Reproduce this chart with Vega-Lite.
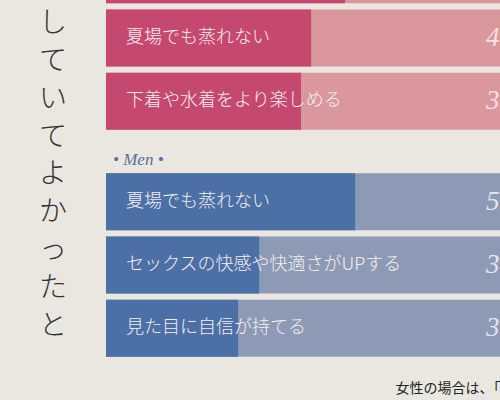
{
  "$schema": "https://vega.github.io/schema/vega-lite/v6.json",
  "autosize": {"type": "none"},
  "padding": {"left": 106, "top": 0, "right": 0, "bottom": 0},
  "width": 394,
  "height": 400,
  "background": "#e9e7e0",
  "title": {
    "text": ["し", "て", "い", "て", "よ", "か", "っ", "た", "と"],
    "orient": "left",
    "anchor": "end",
    "angle": 0,
    "align": "center",
    "baseline": "top",
    "font": "Noto Sans CJK JP",
    "fontSize": 28,
    "fontWeight": 300,
    "lineHeight": 37.8,
    "color": "#333333",
    "offset": 25,
    "dy": 64
  },
  "data": {
    "values": [
      {"group": "Women", "rank": 0, "item": "", "value": 54.3, "pct": null},
      {"group": "Women", "rank": 1, "item": "夏場でも蒸れない", "value": 46.6, "pct": 46.6},
      {"group": "Women", "rank": 2, "item": "下着や水着をより楽しめる", "value": 44.3, "pct": 38.0},
      {"group": "Men", "rank": 0, "item": "夏場でも蒸れない", "value": 56.6, "pct": 56.6},
      {"group": "Men", "rank": 1, "item": "セックスの快感や快適さがUPする", "value": 34.8, "pct": 34.8},
      {"group": "Men", "rank": 2, "item": "見た目に自信が持てる", "value": 30.0, "pct": 30.0}
    ]
  },
  "encoding": {
    "y": {
      "field": "group", "type": "nominal",
      "scale": {"domain": ["Women", "Men"], "range": [-57, 360], "paddingInner": 0.163, "paddingOuter": 0},
      "axis": null
    }
  },
  "layer": [
    {
      "mark": {"type": "bar"},
      "encoding": {
        "yOffset": {"field": "rank", "type": "ordinal", "scale": {"paddingInner": 0.1, "paddingOuter": 0.05}},
        "x": {
          "datum": 100, "type": "quantitative",
          "scale": {"domain": [0, 89.5], "nice": false},
          "axis": {
            "domain": false, "ticks": false, "labels": false, "grid": false,
            "title": "女性の場合は、「",
            "titleAnchor": "end", "titleAlign": "right", "titleBaseline": "middle",
            "titleY": -12, "titleFont": "Noto Sans CJK JP", "titleFontSize": 14,
            "titleFontWeight": "normal", "titleColor": "#222222"
          }
        },
        "color": {
          "field": "group", "type": "nominal",
          "scale": {"domain": ["Women", "Men"], "range": ["#da979c", "#8d9ab5"]},
          "legend": null
        }
      }
    },
    {
      "mark": {"type": "bar"},
      "encoding": {
        "yOffset": {"field": "rank", "type": "ordinal"},
        "x": {"field": "value", "type": "quantitative"},
        "fill": {
          "field": "group", "type": "nominal",
          "scale": {"domain": ["Women", "Men"], "range": ["#c5486f", "#4b70a5"]},
          "legend": null
        }
      }
    },
    {
      "mark": {"type": "text", "align": "left", "baseline": "middle", "dx": 20, "font": "Noto Sans CJK JP", "fontSize": 18, "fontWeight": 300, "color": "#f6eef0"},
      "encoding": {
        "yOffset": {"field": "rank", "type": "ordinal"},
        "x": {"datum": 0, "type": "quantitative"},
        "text": {"field": "item", "type": "nominal"}
      }
    },
    {
      "mark": {"type": "text", "align": "left", "baseline": "middle", "font": "Liberation Serif", "fontStyle": "italic", "fontSize": 27, "color": "#f7f2f3", "opacity": 0.85},
      "encoding": {
        "yOffset": {"field": "rank", "type": "ordinal"},
        "x": {"datum": 86.3, "type": "quantitative"},
        "text": {"field": "pct", "type": "quantitative", "format": ".1f"}
      }
    },
    {
      "data": {"values": [{"group": "Men", "head": "• Men •"}]},
      "mark": {"type": "text", "align": "left", "baseline": "middle", "dx": 7, "dy": -10, "font": "Liberation Serif", "fontStyle": "italic", "fontSize": 17, "color": "#58709a"},
      "encoding": {
        "y": {"field": "group", "type": "nominal", "bandPosition": 0},
        "x": {"datum": 0, "type": "quantitative"},
        "text": {"field": "head", "type": "nominal"}
      }
    }
  ],
  "config": {"view": {"stroke": null}}
}
